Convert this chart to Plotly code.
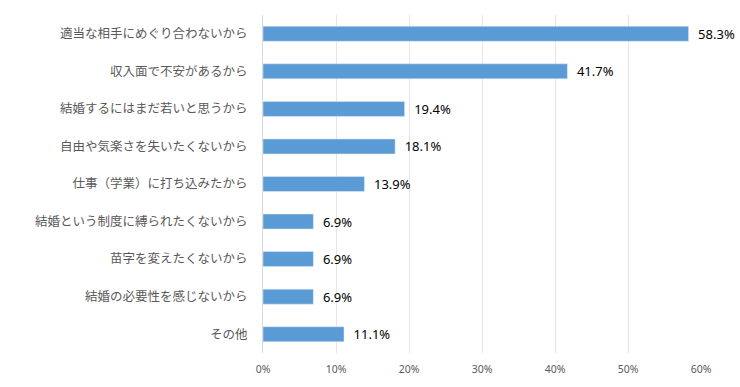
import plotly.graph_objects as go

categories = ["適当な相手にめぐり合わないから", "収入面で不安があるから", "結婚するにはまだ若いと思うから",
              "自由や気楽さを失いたくないから", "仕事（学業）に打ち込みたから", "結婚という制度に縛られたくないから",
              "苗字を変えたくないから", "結婚の必要性を感じないから", "その他"]
values = [58.3, 41.7, 19.4, 18.1, 13.9, 6.9, 6.9, 6.9, 11.1]
tick_vals = [0, 10, 20, 30, 40, 50, 60]
tick_text = ["0%", "10%", "20%", "30%", "40%", "50%", "60%"]

fig = go.Figure(go.Bar(
    x=values, y=categories, orientation="h",
    marker=dict(color="#5B9BD5"),
    width=0.4,
    texttemplate="\u2002%{x:.1f}%",
    textposition="outside",
    constraintext="none",
    textfont=dict(family="Noto Sans, Noto Sans CJK JP", size=13, color="#000000"),
    cliponaxis=False,
))

fig.update_layout(
    width=740, height=387,
    margin=dict(l=263, r=39, t=15, b=34, autoexpand=False),
    plot_bgcolor="white", paper_bgcolor="white",
    showlegend=False,
    font=dict(family="Noto Sans CJK JP", color="#595959"),
    xaxis=dict(range=[0, 60], tickvals=tick_vals, ticktext=tick_text, automargin=False,
               showgrid=True, gridcolor="#E6E6E6", gridwidth=1, zeroline=False,
               tickfont=dict(size=10.5, color="#595959", family="Noto Sans"), ticks="", ticklabelstandoff=8),
    yaxis=dict(autorange="reversed", showline=True, linecolor="#D9D9D9", linewidth=1, automargin=False,
               tickfont=dict(size=12.5, color="#595959", family="Noto Sans CJK JP"),
               ticks="", ticklabelstandoff=12),
)

fig.write_html("out.html", config={"displayModeBar": False},
               post_script="document.body.style.margin='0';document.body.style.overflow='hidden';")
